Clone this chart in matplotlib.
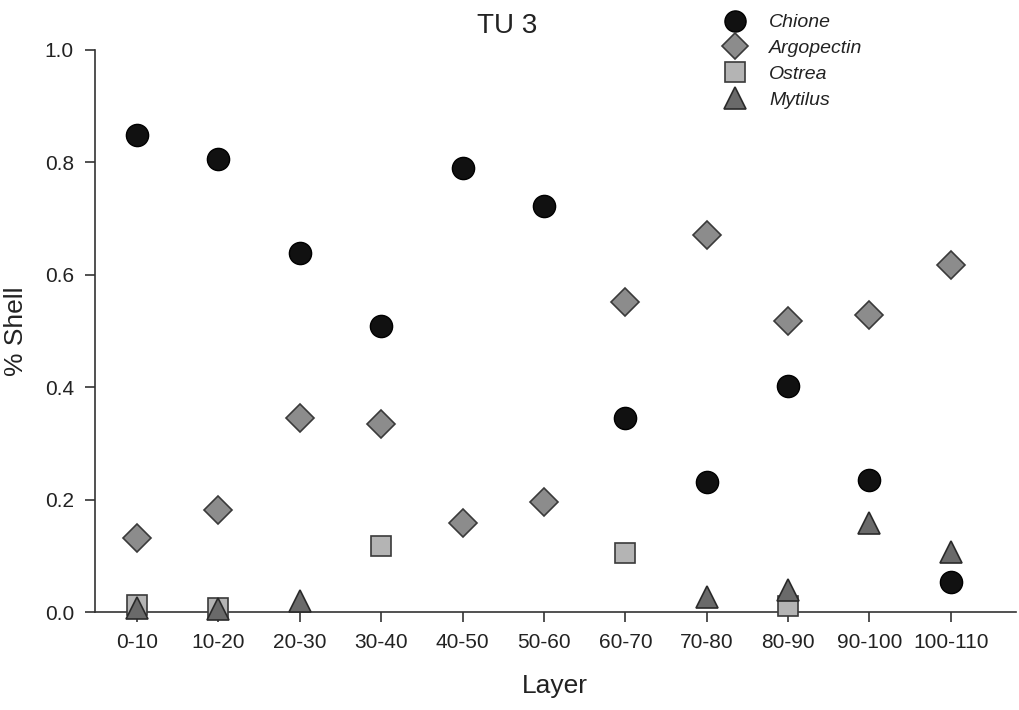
import numpy as np
import matplotlib
matplotlib.use("Agg")
import matplotlib.pyplot as plt

plt.rcParams["font.family"] = ["Liberation Sans", "DejaVu Sans"]

layers = ["0-10", "10-20", "20-30", "30-40", "40-50", "50-60",
          "60-70", "70-80", "80-90", "90-100", "100-110"]
nan = np.nan
chione = [0.849, 0.805, 0.639, 0.509, 0.790, 0.722, 0.345, 0.231, 0.402, 0.235, 0.053]
argopectin = [0.132, 0.182, 0.345, 0.334, 0.158, 0.195, 0.552, 0.670, 0.518, 0.529, 0.618]
ostrea = [0.013, 0.007, nan, 0.118, nan, nan, 0.105, nan, 0.011, nan, nan]
mytilus = [0.007, 0.005, 0.020, nan, nan, nan, nan, 0.027, 0.039, 0.159, 0.107]

x = np.arange(len(layers))

fig = plt.figure(figsize=(10.19, 7.1), dpi=100)
ax = fig.add_axes([0.093, 0.138, 0.904, 0.792])

ax.plot(x, chione, "o", ms=16, mfc="#111111", mec="#000000", mew=1,
        label="Chione", zorder=3, clip_on=False)
ax.plot(x, argopectin, "D", ms=14, mfc="#8c8c8c", mec="#3a3a3a", mew=1.2,
        label="Argopectin", zorder=3, clip_on=False)
ax.plot(x, ostrea, "s", ms=15, mfc="#b4b4b4", mec="#3a3a3a", mew=1.2,
        label="Ostrea", zorder=3, clip_on=False)
ax.plot(x, mytilus, "^", ms=16, mfc="#6a6a6a", mec="#2a2a2a", mew=1.2,
        label="Mytilus", zorder=4, clip_on=False)

ax.set_xlim(-0.52, 10.8)
ax.set_ylim(0, 1.0)
ax.set_xticks(x)
ax.set_xticklabels(layers)
ax.set_yticks(np.arange(0, 1.01, 0.2))
ax.set_yticklabels(["0.0", "0.2", "0.4", "0.6", "0.8", "1.0"])
ax.tick_params(labelsize=15, color="#333333", length=7, width=1.2, pad=8, labelcolor="#222222")
for s in ["top", "right"]:
    ax.spines[s].set_visible(False)
for s in ["left", "bottom"]:
    ax.spines[s].set_color("#333333")
    ax.spines[s].set_linewidth(1.2)

ax.set_xlabel("Layer", fontsize=19, labelpad=16, color="#222222")
ax.set_ylabel("% Shell", fontsize=19, labelpad=12, color="#222222")
fig.text(0.498, 0.963, "TU 3", fontsize=20, ha="center", va="center", color="#222222")

leg = ax.legend(loc="upper left", bbox_to_anchor=(0.655, 1.095), frameon=False,
                fontsize=14, handletextpad=0.75, labelspacing=0.42, markerscale=0.95)
for t in leg.get_texts():
    t.set_fontstyle("italic")
    t.set_color("#222222")

fig.savefig("out.png", dpi=100)
